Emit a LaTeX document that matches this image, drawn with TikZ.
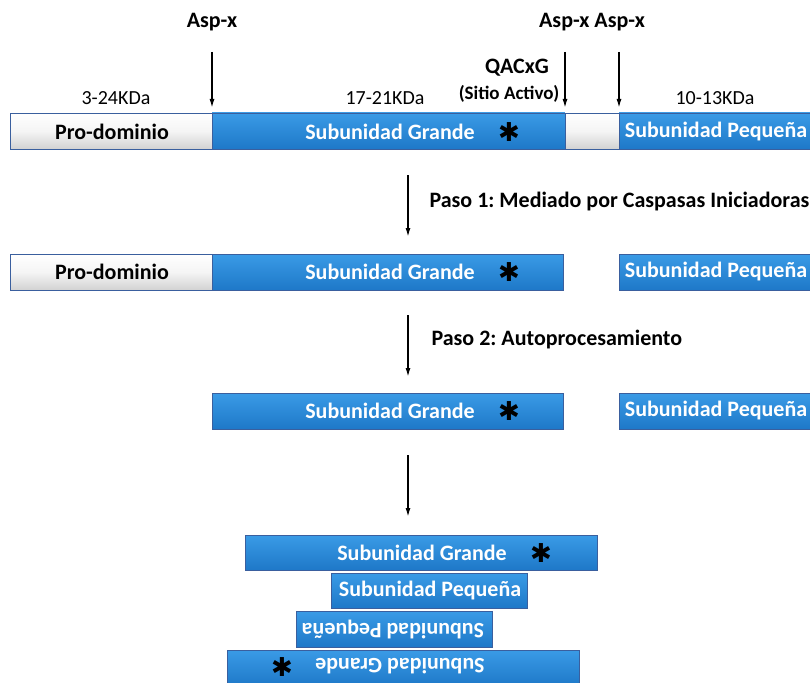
\documentclass[tikz,border=0pt]{standalone}
\usepackage{fontspec}
\usetikzlibrary{arrows.meta}
\setmainfont{Carlito}
\newfontfamily\symfont{DejaVu Sans}
\frenchspacing
\definecolor{bluetop}{HTML}{3A9BE6}
\definecolor{bluebot}{HTML}{1E78C8}
\definecolor{blueedge}{HTML}{3A5F9E}
\begin{document}
\begin{tikzpicture}[x=1pt,y=-1pt,
  bluebox/.style={draw=blueedge,line width=0.8pt,top color=bluetop,bottom color=bluebot},
  graybox/.style={draw=blueedge,line width=0.8pt,top color=white,bottom color=gray!35,middle color=gray!8},
  boxtxt/.style={font=\bfseries\fontsize{22}{24}\selectfont,text=white},
  blacktxt/.style={font=\bfseries\fontsize{22}{24}\selectfont,text=black},
  lbl/.style={font=\bfseries\fontsize{22}{24}\selectfont},
  kda/.style={font=\fontsize{20}{22}\selectfont},
  star/.style={font=\symfont\fontsize{26}{26}\selectfont,inner sep=0pt},
  arr/.style={-{Latex[length=9pt,width=5pt]},line width=1.5pt}
]
\useasboundingbox (0,0) rectangle (810,682);
% Row 1
\draw[graybox] (10,113) rectangle (212,149);
\draw[bluebox] (212,113) rectangle (565,149);
\draw[graybox] (565,113) rectangle (619,149);
\draw[bluebox] (619,113) rectangle (812,149);
\node[blacktxt] (pd1) at (112,132) {Pro-dominio};
\node[boxtxt] (sg1) at (390,132) {Subunidad Grande};
\node[star] (st1) at (509,132) {✱};
\node[boxtxt] (sp1) at (716,132) {Subunidad Pequeña};
% labels
\node[lbl] (asp1) at (212,22) {Asp-x};
\node[lbl] (asp2) at (592,22) {Asp-x Asp-x};
\node[lbl] (qac) at (517,68) {QACxG};
\node[font=\bfseries\fontsize{19}{21}\selectfont] (sit) at (509,94) {(Sitio Activo)};
\node[kda] (k1) at (116,98) {3-24KDa};
\node[kda] (k2) at (385,98) {17-21KDa};
\node[kda] (k3) at (715,98) {10-13KDa};
\coordinate (a1s) at (212,52); \coordinate (a1e) at (212,108);
\coordinate (a2s) at (565,52); \coordinate (a2e) at (565,108);
\coordinate (a3s) at (619,52); \coordinate (a3e) at (619,108);
\draw[arr] (a1s) -- (a1e);
\draw[arr] (a2s) -- (a2e);
\draw[arr] (a3s) -- (a3e);
% Step 1
\coordinate (p1s) at (408,175); \coordinate (p1e) at (408,237);
\draw[arr] (p1s) -- (p1e);
\node[lbl,anchor=west] (paso1) at (426,202) {Paso 1: Mediado por Caspasas Iniciadoras};
% Row 2
\draw[graybox] (10,254) rectangle (212,290);
\draw[bluebox] (212,254) rectangle (563,290);
\draw[bluebox] (619,254) rectangle (812,290);
\node[blacktxt] (pd2) at (112,272) {Pro-dominio};
\node[boxtxt] (sg2) at (390,272) {Subunidad Grande};
\node[star] (st2) at (509,272) {✱};
\node[boxtxt] (sp2) at (716,272) {Subunidad Pequeña};
% Step 2
\coordinate (p2s) at (408,315); \coordinate (p2e) at (408,377);
\draw[arr] (p2s) -- (p2e);
\node[lbl,anchor=west] (paso2) at (428,340) {Paso 2: Autoprocesamiento};
% Row 3
\draw[bluebox] (212,393) rectangle (563,429);
\draw[bluebox] (619,393) rectangle (812,429);
\node[boxtxt] (sg3) at (390,411) {Subunidad Grande};
\node[star] (st3) at (509,411) {✱};
\node[boxtxt] (sp3) at (716,411) {Subunidad Pequeña};
% Step 3
\coordinate (p3s) at (408,455); \coordinate (p3e) at (408,517);
\draw[arr] (p3s) -- (p3e);
% Bottom stack
\draw[bluebox] (245,535) rectangle (597,570);
\node[boxtxt] (sg4) at (422,553) {Subunidad Grande};
\node[star] (st4) at (541,553) {✱};
\draw[bluebox] (331,573) rectangle (527,608);
\node[boxtxt] (sp4) at (430,591) {Subunidad Pequeña};
\draw[bluebox] (296,611) rectangle (492,647);
\node[boxtxt,rotate=180] (sp5) at (393,629) {Subunidad Pequeña};
\draw[bluebox] (227,650) rectangle (579,686);
\node[boxtxt,rotate=180] (sg5) at (400,666) {Subunidad Grande};
\node[star] (st5) at (282,667) {✱};
\end{tikzpicture}
\end{document}
